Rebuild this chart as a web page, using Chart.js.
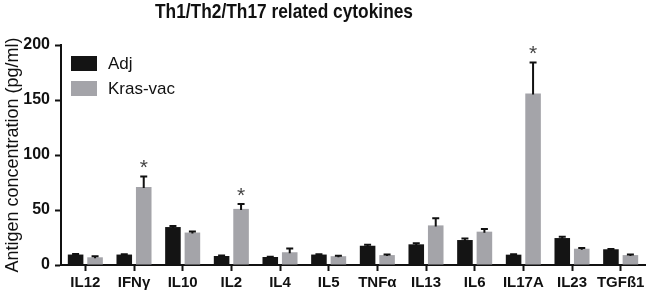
<!DOCTYPE html>
<html><head><meta charset="utf-8">
<script src="https://cdn.jsdelivr.net/npm/chart.js@4/dist/chart.umd.min.js"></script>
<style>html,body{margin:0;padding:0;background:#fff;}#wrap{width:650px;height:299px;}</style>
</head><body><div id="wrap"><canvas id="c" width="650" height="299"></canvas></div>
<script>
const titleText = 'Th1/Th2/Th17 related cytokines';
const yAxisTitle = 'Antigen concentration (pg/ml)';
const categories = ['IL12','IFNγ','IL10','IL2','IL4','IL5','TNFα','IL13','IL6','IL17A','IL23','TGFß1'];
const seriesNames = ['Adj','Kras-vac'];
const adjValues  = [9.5, 9.5, 34.5, 8.2, 7.3, 9.5, 17.5, 18.8, 22.7, 9.4, 24.5, 14.3];
const adjErrors  = [0.5, 0.3, 1.0, 0.5, 0.3, 0.3, 1.0, 1.0, 1.5, 0.3, 1.2, 0.3];
const krasValues = [7.0, 71, 29.5, 51, 11.6, 8.0, 9.0, 36, 30.3, 156, 14.8, 9.0];
const krasErrors = [1.0, 9.5, 1.0, 4.5, 3.5, 0.5, 0.5, 6.5, 2.5, 28, 0.6, 0.5];
const significant = [false,true,false,true,false,false,false,false,false,true,false,false];
const yTicks = [0, 50, 100, 150, 200];

const BLACK = '#141414';
const GRAY = '#a4a4a9';
const FONT = 'Liberation Sans, Arial, sans-serif';

const errorBarPlugin = {
  id: 'errorBars',
  afterDatasetsDraw(chart) {
    const ctx = chart.ctx;
    const ys = chart.scales.y;
    chart.data.datasets.forEach((ds, di) => {
      const meta = chart.getDatasetMeta(di);
      meta.data.forEach((el, i) => {
        const err = ds.errors[i];
        const top = ys.getPixelForValue(ds.data[i] + err);
        ctx.save();
        ctx.strokeStyle = '#111';
        ctx.lineWidth = 2;
        ctx.beginPath();
        ctx.moveTo(el.x, el.y + 1);
        ctx.lineTo(el.x, top);
        ctx.moveTo(el.x - 3.5, top);
        ctx.lineTo(el.x + 3.5, top);
        ctx.stroke();
        ctx.restore();
      });
    });
    // significance stars over Kras-vac bars
    const meta = chart.getDatasetMeta(1);
    const ds = chart.data.datasets[1];
    ctx.save();
    ctx.fillStyle = '#444';
    ctx.font = '21px ' + FONT;
    ctx.textAlign = 'center';
    ctx.textBaseline = 'middle';
    significant.forEach((s, i) => {
      if (!s) return;
      const el = meta.data[i];
      const top = ys.getPixelForValue(ds.data[i] + ds.errors[i]);
      ctx.fillText('*', el.x, top - 8);
    });
    ctx.restore();
  }
};

const titleLegendPlugin = {
  id: 'titleLegend',
  afterDraw(chart) {
    const ctx = chart.ctx;
    ctx.save();
    // title
    ctx.fillStyle = '#111';
    ctx.font = 'bold 21px ' + FONT;
    ctx.textBaseline = 'alphabetic';
    const w = ctx.measureText(titleText).width;
    const target = 258;
    const sx = target / w;
    ctx.translate(155, 18);
    ctx.scale(sx, 1);
    ctx.fillText(titleText, 0, 0);
    ctx.restore();
    // legend
    ctx.save();
    const colors = [BLACK, GRAY];
    ctx.font = '17px ' + FONT;
    ctx.textBaseline = 'middle';
    seriesNames.forEach((name, i) => {
      const y = 56 + i * 25;
      ctx.fillStyle = colors[i];
      ctx.fillRect(71, y, 26, 15);
      ctx.fillStyle = '#111';
      ctx.fillText(name, 108, y + 8);
    });
    ctx.restore();
  }
};

new Chart(document.getElementById('c'), {
  type: 'bar',
  data: {
    labels: categories,
    datasets: [
      { label: seriesNames[0], data: adjValues, errors: adjErrors, backgroundColor: BLACK, borderWidth: 0 },
      { label: seriesNames[1], data: krasValues, errors: krasErrors, backgroundColor: GRAY, borderWidth: 0 }
    ]
  },
  options: {
    responsive: false,
    animation: false,
    devicePixelRatio: 1,
    layout: { padding: { top: 45, right: 5, left: 2, bottom: 0 } },
    plugins: { legend: { display: false }, title: { display: false }, tooltip: { enabled: false } },
    datasets: { bar: { categoryPercentage: 0.8, barPercentage: 0.8 } },
    scales: {
      x: {
        offset: true,
        afterFit(scale) { scale.height = 34; },
        grid: { display: true, drawOnChartArea: false, offset: false, tickLength: 6, tickWidth: 2, tickColor: '#111' },
        border: { display: true, color: '#111', width: 2 },
        ticks: { color: '#111', font: { family: FONT, size: 15, weight: 'bold' }, padding: 3, maxRotation: 0, autoSkip: false }
      },
      y: {
        min: 0, max: 200,
        afterFit(scale) { scale.width = 59; },
        afterBuildTicks(scale) { scale.ticks = yTicks.map(v => ({ value: v })); },
        grid: { display: true, drawOnChartArea: false, tickLength: 6, tickWidth: 2, tickColor: '#111' },
        border: { display: true, color: '#111', width: 2 },
        ticks: { color: '#111', font: { family: FONT, size: 16, weight: 'bold' }, padding: 5 },
        title: { display: true, text: yAxisTitle, color: '#111', font: { family: FONT, size: 18 }, padding: { top: 0, bottom: 0 } }
      }
    }
  },
  plugins: [errorBarPlugin, titleLegendPlugin]
});
</script>
</body></html>
